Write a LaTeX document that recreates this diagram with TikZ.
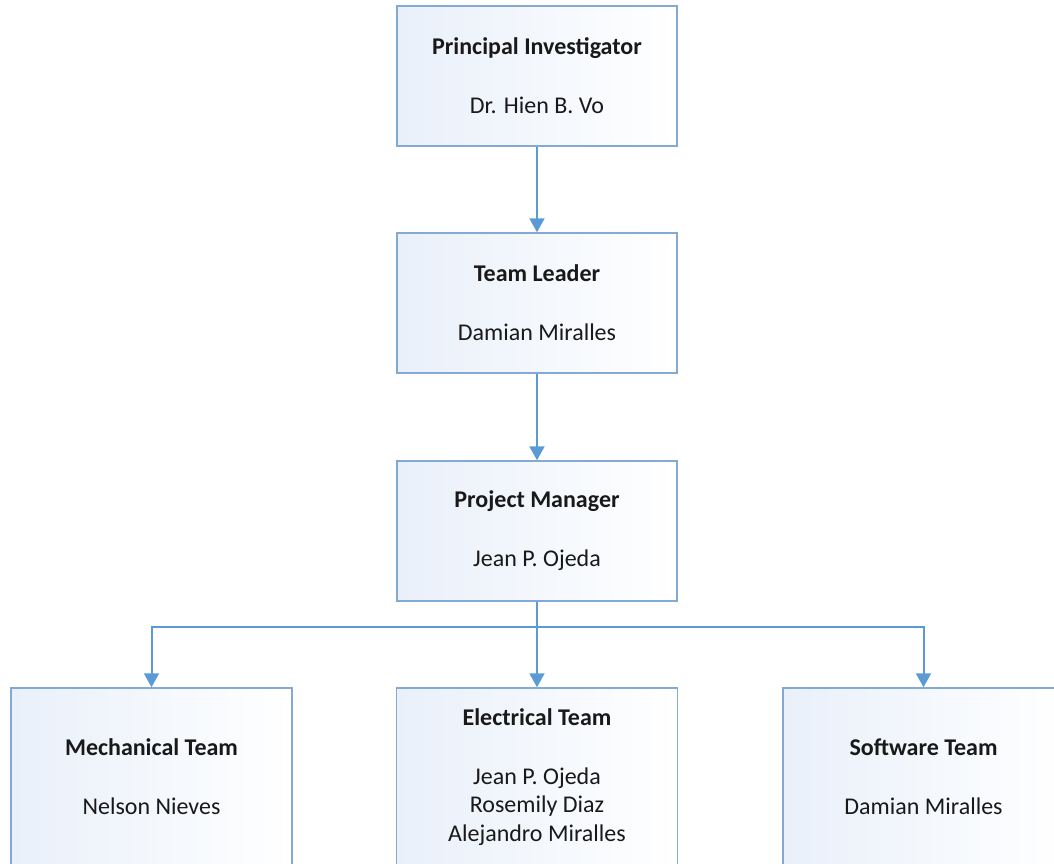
\documentclass[tikz,border=0pt]{standalone}
\usepackage{fontspec}
\setmainfont{Carlito}
\usetikzlibrary{arrows.meta}
\definecolor{boxline}{RGB}{132,170,212}
\definecolor{arrowblue}{RGB}{91,155,213}
\definecolor{boxfill}{RGB}{233,240,250}
\definecolor{txt}{RGB}{25,25,25}
\begin{document}
\begin{tikzpicture}[x=1pt,y=-1pt,
  box/.style={draw=boxline, line width=1.5pt, rectangle, left color=boxfill, right color=white,
    text=txt, align=center, inner sep=0pt, font=\fontsize{24}{28.5}\selectfont},
  topbox/.style={box, minimum width=280pt, minimum height=140pt},
  botbox/.style={box, minimum width=281pt, minimum height=178pt},
  conn/.style={draw=arrowblue, line width=2pt, -{Triangle[width=15pt,length=14pt]}}]
\path[use as bounding box] (0,0) rectangle (1054,863);
\clip (0,0) rectangle (1054,863);
\node[topbox] (pi) at (537,76) {\textbf{Principal Investigator}\\[30.5pt]Dr. Hien B. Vo};
\node[topbox] (tl) at (537,303) {\textbf{Team Leader}\\[30.5pt]Damian Miralles};
\node[topbox] (pm) at (537,531) {\textbf{Project Manager}\\[30.5pt]Jean P. Ojeda};
\node[botbox] (me) at (151.5,777) {\textbf{Mechanical Team}\\[30.5pt]Nelson Nieves};
\node[botbox] (el) at (537,777) {\textbf{Electrical Team}\\[30.5pt]Jean P. Ojeda\\Rosemily Diaz\\Alejandro Miralles};
\node[botbox] (sw) at (923.5,777) {\textbf{Software Team}\\[30.5pt]Damian Miralles};
\coordinate (bus) at (537,627);
\draw[conn] (pi.south) -- (tl.north);
\draw[conn] (tl.south) -- (pm.north);
\draw[conn] (pm.south) -- (el.north);
\draw[conn] (pm.south) -- (bus) -| (me.north);
\draw[conn] (bus) -| (sw.north);
\end{tikzpicture}
\end{document}
